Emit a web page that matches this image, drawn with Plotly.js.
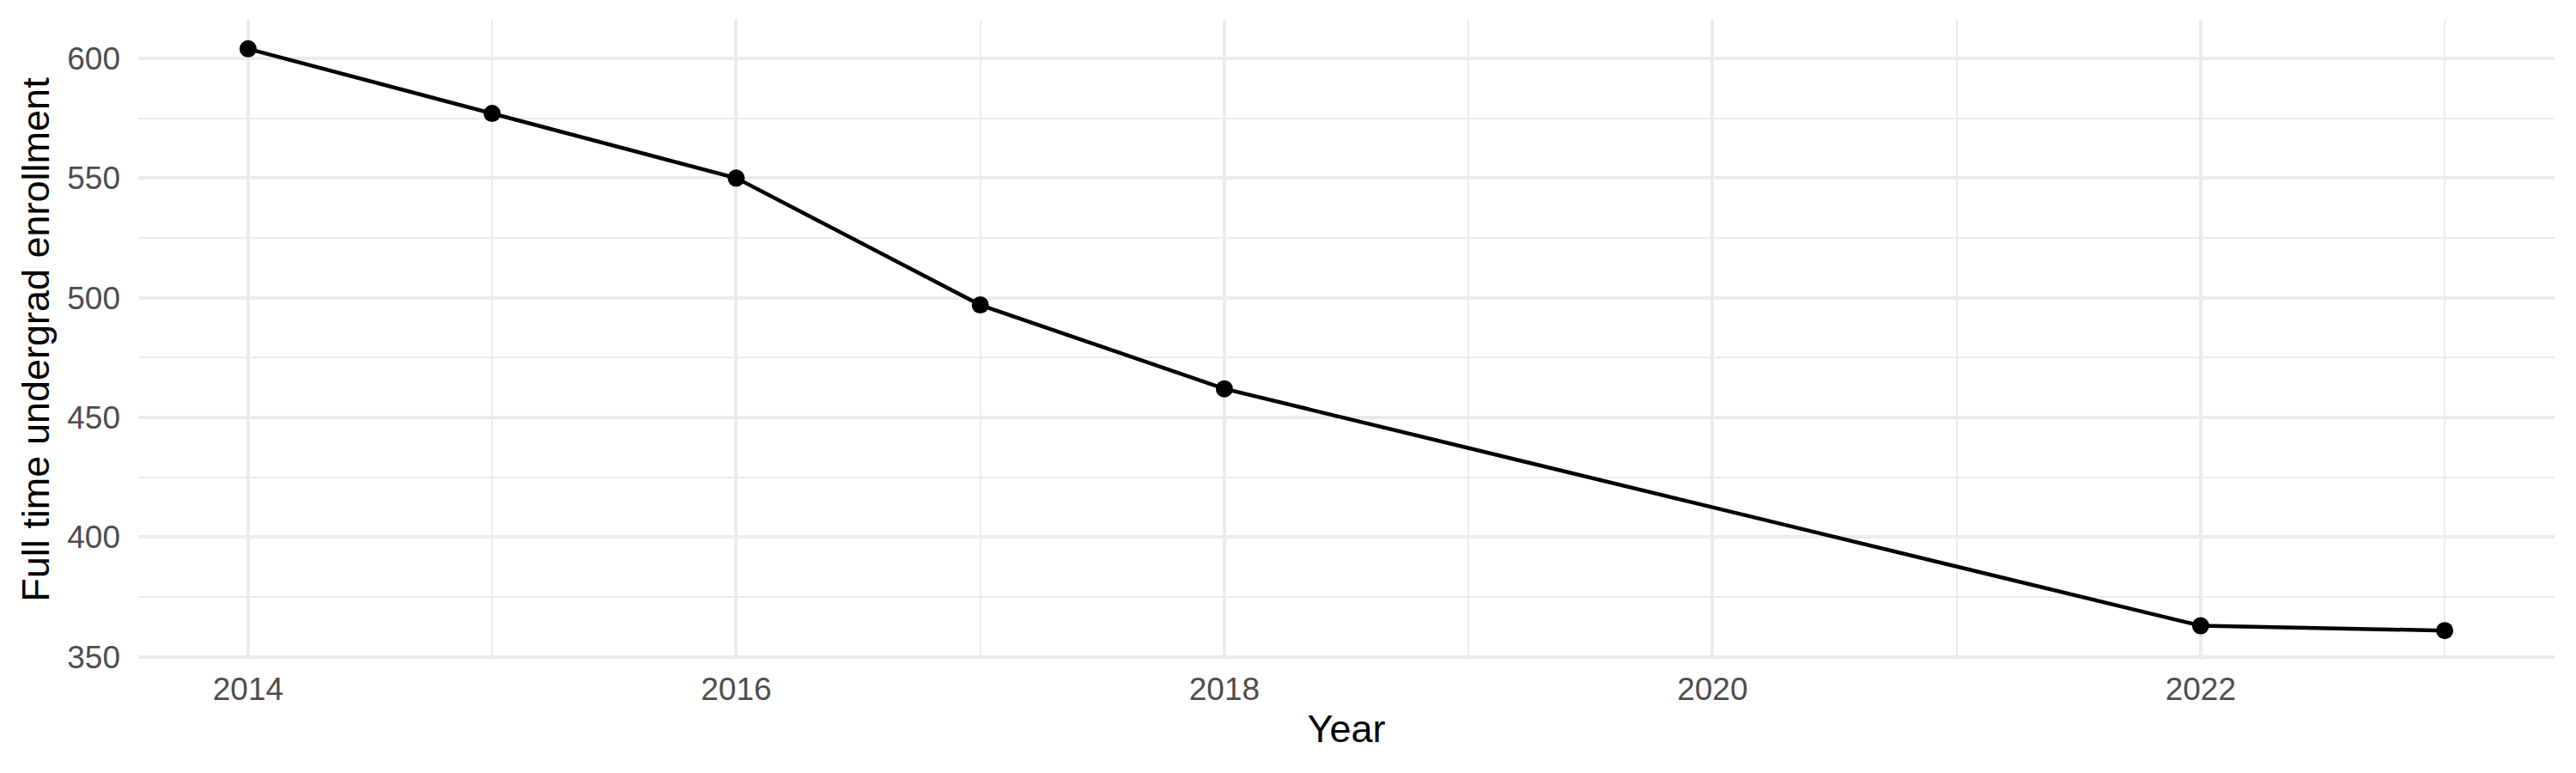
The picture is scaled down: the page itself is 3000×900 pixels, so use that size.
<!DOCTYPE html>
<html>
<head>
<meta charset="utf-8">
<script src="https://cdn.plot.ly/plotly-3.0.1.min.js"></script>
<style>
  html, body { margin: 0; padding: 0; background: #fff; }
  #chart { width: 3000px; height: 900px; }
</style>
</head>
<body>
<div id="chart"></div>
<script>
// enrollment by year (2019-2021 missing in the source)
const years = [2014, 2015, 2016, 2017, 2018, 2022, 2023];
const enrollment = [604, 577, 550, 497, 462, 363, 361];

const xTicks = [2014, 2016, 2018, 2020, 2022];
const yTicks = [350, 400, 450, 500, 550, 600];

// ggplot-style 5% expansion of the data range
function expand(vals, f) {
  const lo = Math.min(...vals), hi = Math.max(...vals);
  const pad = (hi - lo) * f;
  return [lo - pad, hi + pad];
}

const trace = {
  x: years,
  y: enrollment,
  type: 'scatter',
  mode: 'lines+markers',
  line: { color: '#000', width: 4.5 },
  marker: { color: '#000', size: 20 },
  hoverinfo: 'x+y',
  showlegend: false,
};

const grid = '#EBEBEB';
const layout = {
  width: 3000,
  height: 900,
  paper_bgcolor: '#fff',
  plot_bgcolor: '#fff',
  font: { family: 'Liberation Sans, Arial, sans-serif', color: '#000' },
  margin: { l: 161, r: 25, t: 23, b: 132 },
  showlegend: false,
  xaxis: {
    range: expand(years, 0.05),
    tickvals: xTicks,
    ticktext: xTicks.map(String),
    showgrid: true,
    gridcolor: grid,
    gridwidth: 4,
    zeroline: false,
    showline: false,
    ticks: '',
    tickfont: { size: 37, color: '#4D4D4D' },
    ticklabelstandoff: 9,
    minor: { dtick: 1, showgrid: true, gridcolor: grid, gridwidth: 2 },
    title: { text: 'Year', font: { size: 45, color: '#000' }, standoff: 10 },
  },
  yaxis: {
    range: expand(enrollment, 0.05),
    tickvals: yTicks,
    ticktext: yTicks.map(String),
    showgrid: true,
    gridcolor: grid,
    gridwidth: 4,
    zeroline: false,
    showline: false,
    ticks: '',
    tickfont: { size: 37, color: '#4D4D4D' },
    ticklabelstandoff: 20,
    minor: { dtick: 25, showgrid: true, gridcolor: grid, gridwidth: 2 },
    title: { text: 'Full time undergrad enrollment', font: { size: 45, color: '#000' }, standoff: 6 },
  },
};

Plotly.newPlot('chart', [trace], layout, { staticPlot: true, displayModeBar: false });
</script>
</body>
</html>
